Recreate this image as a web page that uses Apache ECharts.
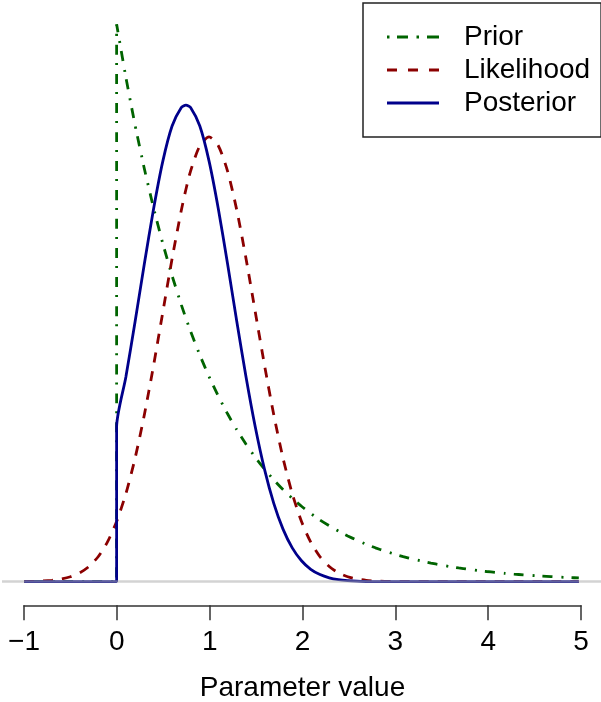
<!DOCTYPE html>
<html>
<head>
<meta charset="utf-8">
<script src="https://cdn.jsdelivr.net/npm/echarts@6/dist/echarts.min.js"></script>
<style>
  html, body { margin: 0; padding: 0; background: #fff; }
  #chart { width: 601px; height: 702px; }
</style>
</head>
<body>
<div id="chart"></div>
<script>
// x positions (0 appears twice for the step at the origin)
const xs = [-1, -0.9, -0.8, -0.7, -0.6, -0.5, -0.4, -0.3, -0.2, -0.1, 0, 0,
  0.1, 0.2, 0.3, 0.4, 0.5, 0.6, 0.7, 0.75, 0.8, 0.9, 1,
  1.1, 1.2, 1.3, 1.4, 1.5, 1.6, 1.7, 1.8, 1.9, 2,
  2.1, 2.2, 2.3, 2.4, 2.5, 2.6, 2.7, 2.8, 2.9, 3,
  3.1, 3.2, 3.3, 3.4, 3.5, 3.6, 3.7, 3.8, 3.9, 4,
  4.1, 4.2, 4.3, 4.4, 4.5, 4.6, 4.7, 4.8, 4.9, 5]

const prior = [0, 0, 0, 0, 0, 0, 0, 0, 0, 0, 0, 1,
  0.9048, 0.8187, 0.7408, 0.6703, 0.6065, 0.5488, 0.4966, 0.4724, 0.4493, 0.4066, 0.3679,
  0.3329, 0.3012, 0.2725, 0.2466, 0.2231, 0.2019, 0.1827, 0.1653, 0.1496, 0.1353,
  0.1225, 0.1108, 0.1003, 0.0907, 0.0821, 0.0743, 0.0672, 0.0608, 0.0550, 0.0498,
  0.0450, 0.0408, 0.0369, 0.0334, 0.0302, 0.0273, 0.0247, 0.0224, 0.0202, 0.0183,
  0.0166, 0.0150, 0.0136, 0.0123, 0.0111, 0.0101, 0.0091, 0.0082, 0.0074, 0.0067]

const likelihood = [0.0003, 0.0006, 0.0012, 0.0025, 0.0048, 0.0089, 0.0158, 0.0272, 0.0448, 0.0709, 0.1080, 0.1080,
  0.1579, 0.2218, 0.2995, 0.3884, 0.4839, 0.5794, 0.6665, 0.7041, 0.7366, 0.7821, 0.7979,
  0.7821, 0.7366, 0.6665, 0.5794, 0.4839, 0.3884, 0.2995, 0.2218, 0.1579, 0.1080,
  0.0709, 0.0448, 0.0272, 0.0158, 0.0089, 0.0048, 0.0025, 0.0012, 0.0006, 0.0003,
  0.0001, 0, 0, 0, 0, 0, 0, 0, 0, 0,
  0, 0, 0, 0, 0, 0, 0, 0, 0, 0]

const posterior = [0, 0, 0, 0, 0, 0, 0, 0, 0, 0, 0, 0.2776,
  0.3673, 0.4669, 0.5703, 0.6692, 0.7545, 0.8174, 0.8507, 0.8550, 0.8507, 0.8174, 0.7545,
  0.6692, 0.5703, 0.4669, 0.3673, 0.2776, 0.2015, 0.1406, 0.0943, 0.0607, 0.0376,
  0.0223, 0.0128, 0.0070, 0.0037, 0.0019, 0.0009, 0.0004, 0.0002, 0.0001, 0,
  0, 0, 0, 0, 0, 0, 0, 0, 0, 0,
  0, 0, 0, 0, 0, 0, 0, 0, 0, 0]

const seriesNames = ['Prior', 'Likelihood', 'Posterior']
const xTicks = [-1, 0, 1, 2, 3, 4, 5]

const font = '"Liberation Sans", Arial, Helvetica, sans-serif'
const chart = echarts.init(document.getElementById('chart'), null, { renderer: 'canvas' })

const toPairs = ys => xs.map((x, i) => [x, ys[i]])

// legend keys drawn as little dash patterns (52 x 2.8)
const legendIcons = {
  Prior: 'path://M0,0h2.5v2.8h-2.5Z M10,0h11v2.8h-11Z M29.5,0h2.5v2.8h-2.5Z M40,0h12v2.8h-12Z',
  Likelihood: 'path://M0,0h10v2.8h-10Z M21,0h10v2.8h-10Z M42,0h10v2.8h-10Z',
  Posterior: 'path://M0,0h52v2.8h-52Z'
}

const option = {
  animation: false,
  backgroundColor: '#fff',
  textStyle: { fontFamily: font },
  grid: [
    // plotting region
    { left: 2, top: 2, width: 601, height: 602 },
    // bottom axis, only spans -1..5
    { left: 24, top: 605, width: 557, height: 1 }
  ],
  xAxis: [
    { gridIndex: 0, type: 'value', min: -1.24, max: 5.24, show: false },
    {
      gridIndex: 1, type: 'value', min: -1, max: 5, interval: 1,
      position: 'bottom',
      axisLine: { show: true, lineStyle: { color: '#333', width: 1.5 } },
      axisTick: { show: true, inside: false, length: 15, lineStyle: { color: '#333', width: 1.5 } },
      splitLine: { show: false },
      axisLabel: {
        margin: 23, fontSize: 28, color: '#000', fontFamily: font,
        formatter: v => xTicks.includes(v) ? String(v).replace('-', '\u2212') : ''
      },
      name: 'Parameter value',
      nameLocation: 'middle',
      nameGap: 69,
      nameTextStyle: { fontSize: 28, color: '#000', fontFamily: font }
    }
  ],
  yAxis: [
    { gridIndex: 0, type: 'value', min: -0.04, max: 1.04, show: false },
    { gridIndex: 1, type: 'value', min: 0, max: 1, show: false }
  ],
  legend: {
    orient: 'vertical',
    left: 363,
    top: 3,
    data: seriesNames.map(n => ({ name: n, icon: legendIcons[n] })),
    borderColor: '#222',
    borderWidth: 1.5,
    borderRadius: 0,
    padding: [19, 11, 19, 24],
    itemWidth: 52,
    itemHeight: 2.8,
    itemGap: 3,
    textStyle: { fontSize: 28, color: '#000', lineHeight: 30, padding: [0, 0, 0, 20], fontFamily: font }
  },
  series: [
    {
      name: 'Prior', type: 'line', xAxisIndex: 0, yAxisIndex: 0,
      data: toPairs(prior), symbol: 'none', smooth: 0.15,
      itemStyle: { color: '#006400' },
      lineStyle: { color: '#006400', width: 2.8, type: [2, 8, 10, 9] },
      z: 2
    },
    {
      name: 'Likelihood', type: 'line', xAxisIndex: 0, yAxisIndex: 0,
      data: toPairs(likelihood), symbol: 'none', smooth: 0.25,
      itemStyle: { color: '#8b0000' },
      lineStyle: { color: '#8b0000', width: 2.8, type: [10, 9] },
      z: 3
    },
    {
      name: 'Posterior', type: 'line', xAxisIndex: 0, yAxisIndex: 0,
      data: toPairs(posterior), symbol: 'none', smooth: 0.25,
      itemStyle: { color: '#00008b' },
      lineStyle: { color: '#00008b', width: 2.8 },
      z: 4
    },
    {
      // horizontal reference line at zero, drawn on top
      name: 'zero', type: 'line', xAxisIndex: 0, yAxisIndex: 0,
      data: [], silent: true, z: 5,
      markLine: {
        silent: true, symbol: 'none', label: { show: false },
        lineStyle: { color: 'rgba(175,175,175,0.55)', width: 2.5, type: 'solid' },
        data: [{ yAxis: 0 }]
      }
    }
  ]
}

chart.setOption(option)
</script>
</body>
</html>
